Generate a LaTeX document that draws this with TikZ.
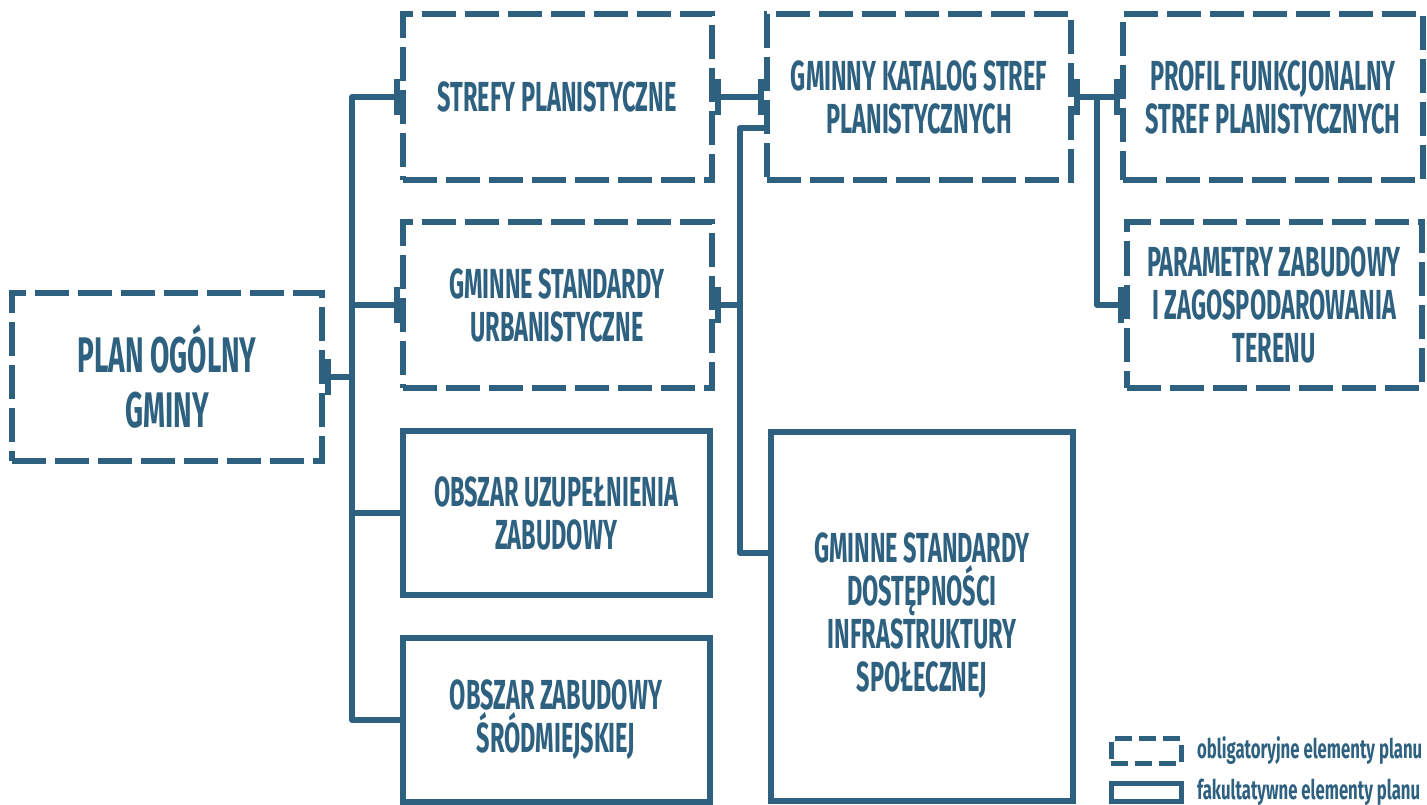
\documentclass[tikz,border=0pt]{standalone}
\usepackage{fontspec}
\newfontfamily\plfont[FakeStretch=0.56]{Fira Sans}
\newfontfamily\legfont[FakeStretch=0.62]{Fira Sans}
\usetikzlibrary{arrows.meta}
\definecolor{planblue}{RGB}{46,96,128}

\tikzset{
  box/.style={draw=planblue, line width=6pt, text=planblue, align=center,
    inner sep=0pt, font=\plfont\bfseries\fontsize{42}{43}\selectfont},
  dashbox/.style={box, dash pattern=on 34pt off 9pt},
  solidbox/.style={box},
  link/.style={draw=planblue, line width=6pt, line join=round},
  barend/.style={link, -{Bar[width=36pt]}},
  barstart/.style={link, {Bar[width=36pt]}-},
  barboth/.style={link, {Bar[width=36pt]}-{Bar[width=36pt]}},
  legtext/.style={text=planblue, anchor=west, inner sep=0pt,
    font=\legfont\bfseries\fontsize{27}{28}\selectfont}
}

\begin{document}
\begin{tikzpicture}[x=1pt, y=-1pt]
\useasboundingbox (0,0) rectangle (1427,805);

% boxes
\node[dashbox, minimum width=310, minimum height=168,
  font=\plfont\bfseries\fontsize{50}{55}\selectfont] (plan) at (167,377) {PLAN OGÓLNY\\GMINY};
\node[dashbox, minimum width=309, minimum height=166] (strefy) at (557,97) {STREFY PLANISTYCZNE};
\node[dashbox, minimum width=309, minimum height=166] (urb) at (557,305) {GMINNE STANDARDY\\URBANISTYCZNE};
\node[solidbox, minimum width=307, minimum height=164] (uzup) at (556,513) {OBSZAR UZUPEŁNIENIA\\ZABUDOWY};
\node[solidbox, minimum width=307, minimum height=164] (srod) at (556,720) {OBSZAR ZABUDOWY\\ŚRÓDMIEJSKIEJ};
\node[dashbox, minimum width=304, minimum height=166] (katalog) at (919,97) {GMINNY KATALOG STREF\\PLANISTYCZNYCH};
\node[solidbox, minimum width=302, minimum height=369] (dost) at (922,616) {GMINNE STANDARDY\\DOSTĘPNOŚCI\\INFRASTRUKTURY\\SPOŁECZNEJ};
\node[dashbox, minimum width=300, minimum height=166] (profil) at (1273,97) {PROFIL FUNKCJONALNY\\STREF PLANISTYCZNYCH};
\node[dashbox, minimum width=295, minimum height=165] (param) at (1274,305) {PARAMETRY ZABUDOWY\\I ZAGOSPODAROWANIA\\TERENU};

% trunks
\coordinate (tA) at (352,0);
\coordinate (tB) at (740,0);
\coordinate (tC) at (1097,0);

% connectors
\draw[barstart] (plan.east) -- (plan.east -| tA);
\draw[barend] (srod.west) -| (tA |- strefy.west) -- (strefy.west);
\draw[barend] (tA |- urb.west) -- (urb.west);
\draw[link] (tA |- uzup.west) -- (uzup.west);
\draw[barboth] (strefy.east) -- (katalog.west);
\draw[link] ([yshift=-31pt]katalog.west) -| ([yshift=63pt]dost.west -| tB) -- ([yshift=63pt]dost.west);
\draw[barstart] (urb.east) -- (urb.east -| tB);
\draw[barboth] (katalog.east) -- (profil.west);
\draw[barend] (katalog.east -| tC) |- (param.west);

% legend
\node[draw=planblue, line width=5pt, dash pattern=on 17pt off 7pt,
  minimum width=70, minimum height=25, inner sep=0pt] (legA) at (1146,751) {};
\node[draw=planblue, line width=5pt, minimum width=70, minimum height=18,
  inner sep=0pt] (legB) at (1146,792) {};
\node[legtext] (legAt) at (1197,751) {obligatoryjne elementy planu};
\node[legtext] (legBt) at (1197,792) {fakultatywne elementy planu};
\end{tikzpicture}
\end{document}
